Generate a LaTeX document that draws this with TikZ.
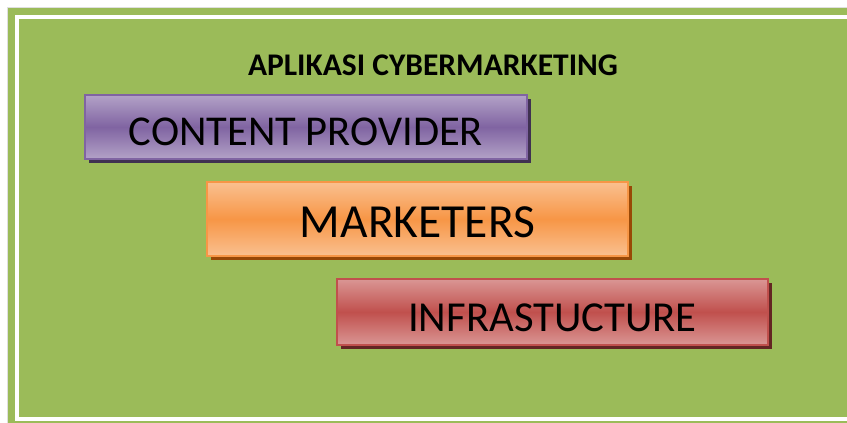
\documentclass[tikz,border=0pt]{standalone}
\usepackage{fontspec}
\setmainfont{Carlito}
\usepackage{xcolor}
\usepackage{tikz}
\usetikzlibrary{shapes,fit,calc,positioning,shadows}

\definecolor{bggreen}{HTML}{9BBB59}
\definecolor{cpmid}{HTML}{8064A2}
\definecolor{cplight}{HTML}{B3A2C7}
\definecolor{cpshade}{HTML}{3F3151}
\definecolor{mkmid}{HTML}{F79646}
\definecolor{mklight}{HTML}{FAC090}
\definecolor{mkshade}{HTML}{984807}
\definecolor{inmid}{HTML}{C0504D}
\definecolor{inlight}{HTML}{DA9694}
\definecolor{inshade}{HTML}{632523}

\tikzset{
  bar/.style={draw=#1mid, line width=2pt, inner sep=0pt,
    top color=#1light, bottom color=#1light, middle color=#1mid,
    drop shadow={shadow xshift=4pt, shadow yshift=-4pt, fill=#1shade, opacity=1}}
}

\begin{document}
\begin{tikzpicture}[x=1pt,y=1pt]
\useasboundingbox (0,0) rectangle (847,423);

% background
\fill[white] (0,0) rectangle (847,423);
\draw[gray!25, fill=bggreen] (7,-10) rectangle (870,416);
\draw[white, line width=4pt] (17,4) rectangle (870,405.5);

\node[font=\bfseries\fontsize{31.5}{36}\selectfont] (title) at (433,358) {APLIKASI CYBERMARKETING};

\coordinate(O1) at (84,329);
\node[below right=0cm of O1, bar=cp, minimum width=442pt, minimum height=64pt, font=\fontsize{42.5}{48}\selectfont](provider) {\raisebox{-5pt}[\height][\depth]{CONTENT PROVIDER}};

\coordinate(O1) at (206,242);
\node[below right=0cm of O1, bar=mk, minimum width=421pt, minimum height=74pt, font=\fontsize{47.5}{53}\selectfont](marketers) {\raisebox{-3.5pt}[\height][\depth]{MARKETERS}};

\coordinate(O1) at (336,145);
\node[below right=0cm of O1, bar=in, minimum width=431pt, minimum height=66pt, font=\fontsize{42.7}{48}\selectfont](infra) {\raisebox{-5.5pt}[\height][\depth]{INFRASTUCTURE}};

\end{tikzpicture}
\end{document}
